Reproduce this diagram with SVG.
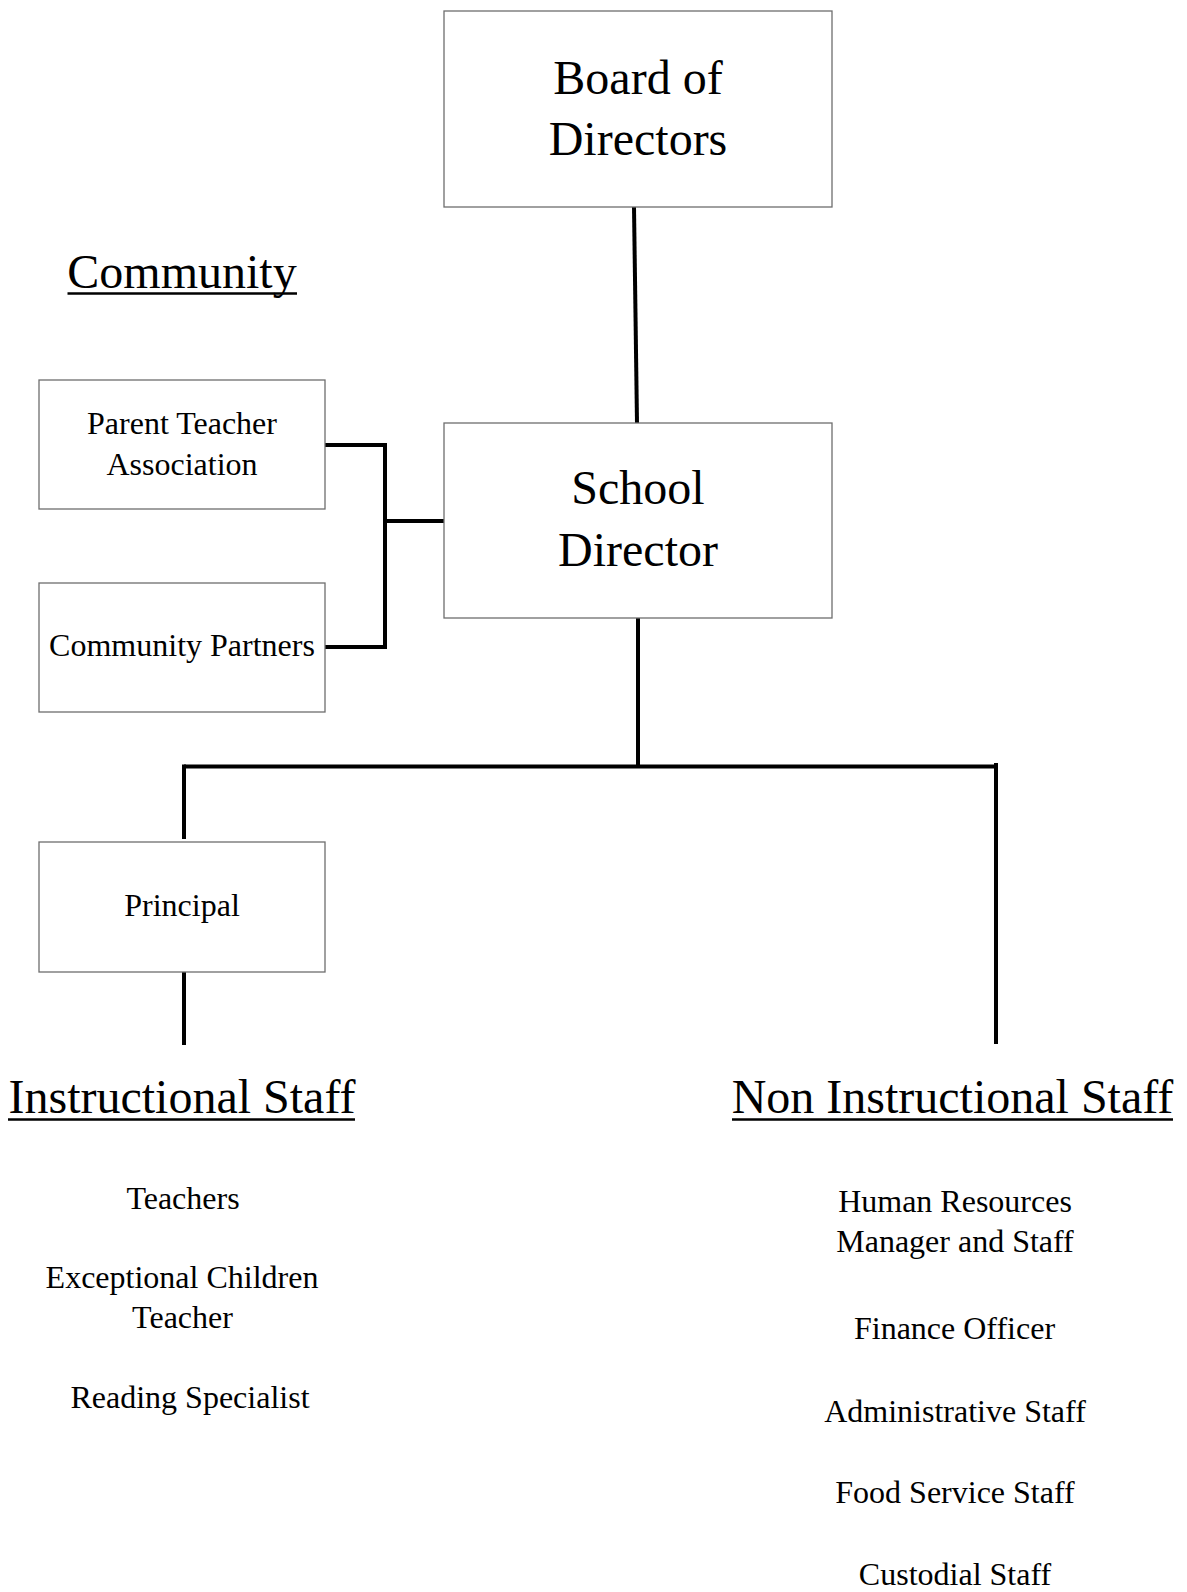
<svg xmlns="http://www.w3.org/2000/svg" width="1187" height="1592" viewBox="0 0 1187 1592">
<style>
.box{fill:#fff;stroke:#6e6e6e;stroke-width:1.3}
.t{font-family:"Liberation Serif","Times New Roman",serif;fill:#000;text-anchor:middle}
.big{font-size:48px}
.sm{font-size:32px}
.ul{stroke:#000;stroke-width:2.5}
.conn{stroke:#000;stroke-width:4;fill:none;stroke-linecap:butt}
</style>
<rect width="1187" height="1592" fill="#fff"/>
<g id="connectors">
<line class="conn" x1="634" y1="207" x2="637" y2="423"/>
<line class="conn" x1="638" y1="618" x2="638" y2="768"/>
<line class="conn" x1="184" y1="766.5" x2="996" y2="766.5"/>
<line class="conn" x1="184" y1="764.5" x2="184" y2="839"/>
<line class="conn" x1="996" y1="763" x2="996" y2="1044"/>
<line class="conn" x1="184" y1="972" x2="184" y2="1045"/>
<polyline class="conn" points="325,445 385,445 385,647 325,647"/>
<line class="conn" x1="385" y1="521" x2="444" y2="521"/>
</g>
<g id="board">
<rect class="box" x="444" y="11" width="388" height="196"/>
<text class="t big" x="638" y="94">Board of</text>
<text class="t big" x="638" y="155">Directors</text>
</g>
<g id="community-title">
<text class="t big" x="182" y="288">Community</text>
<line class="ul" x1="67.5" y1="293.5" x2="297" y2="293.5"/>
</g>
<g id="pta">
<rect class="box" x="39" y="380" width="286" height="129"/>
<text class="t sm" x="182" y="434">Parent Teacher</text>
<text class="t sm" x="182" y="475">Association</text>
</g>
<g id="school-director">
<rect class="box" x="444" y="423" width="388" height="195"/>
<text class="t big" x="638" y="504">School</text>
<text class="t big" x="638" y="565.5">Director</text>
</g>
<g id="community-partners">
<rect class="box" x="39" y="583" width="286" height="129"/>
<text class="t sm" x="182" y="656">Community Partners</text>
</g>
<g id="principal">
<rect class="box" x="39" y="842" width="286" height="130"/>
<text class="t sm" x="182" y="915.5">Principal</text>
</g>
<g id="instructional-staff">
<text class="t big" x="182" y="1112.5">Instructional Staff</text>
<line class="ul" x1="8" y1="1119.5" x2="355" y2="1119.5"/>
<text class="t sm" x="183" y="1209">Teachers</text>
<text class="t sm" x="182" y="1288">Exceptional Children</text>
<text class="t sm" x="182.5" y="1328">Teacher</text>
<text class="t sm" x="190" y="1408">Reading Specialist</text>
</g>
<g id="non-instructional-staff">
<text class="t big" x="952.5" y="1113">Non Instructional Staff</text>
<line class="ul" x1="732" y1="1119.5" x2="1173" y2="1119.5"/>
<text class="t sm" x="955" y="1211.5">Human Resources</text>
<text class="t sm" x="955" y="1251.5">Manager and Staff</text>
<text class="t sm" x="954.5" y="1339">Finance Officer</text>
<text class="t sm" x="955" y="1421.5">Administrative Staff</text>
<text class="t sm" x="955" y="1502.5">Food Service Staff</text>
<text class="t sm" x="955" y="1585">Custodial Staff</text>
</g>
</svg>
